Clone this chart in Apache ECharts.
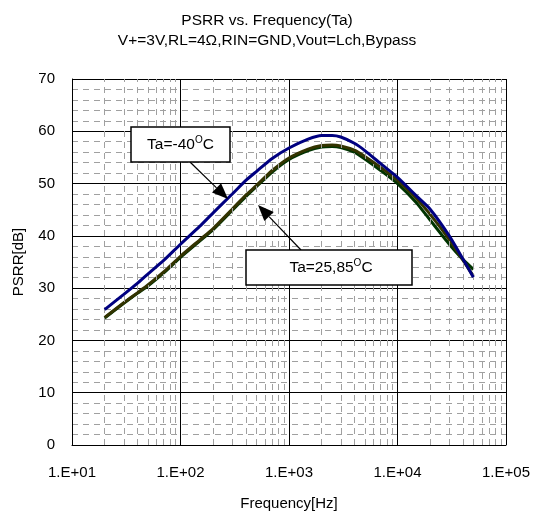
<!DOCTYPE html>
<html>
<head>
<meta charset="utf-8">
<script src="https://cdn.jsdelivr.net/npm/echarts@6/dist/echarts.min.js"></script>
<style>
html,body{margin:0;padding:0;background:#fff;}
#chart{width:534px;height:516px;}
</style>
</head>
<body>
<div id="chart"></div>
<script>
// ---- data ----
const titleText = 'PSRR vs. Frequency(Ta)';
const subtitleText = 'V+=3V,RL=4Ω,RIN=GND,Vout=Lch,Bypass';
const xAxisName = 'Frequency[Hz]';
const yAxisName = 'PSRR[dB]';
const freqs = [20,30,40,50,70,100,150,200,300,400,500,700,1000,1500,2000,2500,3000,4000,5000,7000,10000,15000,20000,30000,40000,50000];
const psrrM40 = [25.9,28.8,30.9,32.7,35.3,38.4,41.8,44.4,48.0,50.6,52.3,54.8,56.8,58.5,59.2,59.2,58.9,57.7,56.3,53.8,51.2,47.6,45.1,40.0,35.6,32.1];
const psrr25  = [24.4,27.2,29.1,30.6,33.1,36.1,39.2,41.4,45.1,47.8,49.6,52.5,54.9,56.6,57.3,57.4,57.2,56.4,55.2,53.1,50.6,47.1,44.1,39.3,35.4,32.3];
const psrr85  = [24.3,27.1,29.0,30.4,32.9,35.9,39.0,41.2,44.9,47.5,49.4,52.2,54.6,56.3,57.0,57.1,56.9,56.0,54.7,52.5,50.0,46.3,43.0,38.4,35.5,33.6];
const minorFreqs = [20,30,40,50,60,70,80,90,200,300,400,500,600,700,800,900,2000,3000,4000,5000,6000,7000,8000,9000,20000,30000,40000,50000,60000,70000,80000,90000];
const label1 = 'Ta=-40';
const label2 = 'Ta=25,85';

const FONT = '"Liberation Sans", Arial, sans-serif';
const chart = echarts.init(document.getElementById('chart'));

function pair(vals){ return freqs.map((f,i)=>[f, vals[i]]); }

function arrow(x1,y1,x2,y2){
  const dx=x2-x1, dy=y2-y1, L=Math.hypot(dx,dy);
  const ux=dx/L, uy=dy/L, hl=16, hw=6.5;
  const bx=x2-ux*hl, by=y2-uy*hl;
  return [
    {type:'line', z:100, shape:{x1:x1,y1:y1,x2:bx,y2:by}, style:{stroke:'#000',lineWidth:1.2}},
    {type:'polygon', z:100, shape:{points:[[x2,y2],[bx-uy*hw,by+ux*hw],[bx+uy*hw,by-ux*hw]]}, style:{fill:'#000'}}
  ];
}

const supRich = {
  m:{fontSize:15.5, fontFamily:FONT, color:'#000', lineHeight:18},
  s:{fontSize:10, fontFamily:FONT, color:'#000', verticalAlign:'top', lineHeight:10}
};

const option = {
  animation:false,
  backgroundColor:'#fff',
  title:[
    {text:titleText, left:'center', top:13, padding:0, textStyle:{fontSize:15.5, fontWeight:'normal', color:'#000', fontFamily:FONT}},
    {text:subtitleText, left:'center', top:33, padding:0, textStyle:{fontSize:15.5, fontWeight:'normal', color:'#000', fontFamily:FONT}}
  ],
  grid:{left:72, right:28, top:79, bottom:69, containLabel:false},
  xAxis:{
    type:'log', logBase:10, min:10, max:100000,
    name:xAxisName, nameLocation:'middle', nameGap:51,
    nameTextStyle:{fontSize:15, color:'#000', fontFamily:FONT},
    axisLine:{lineStyle:{color:'#000', width:1}},
    axisTick:{show:false},
    axisLabel:{margin:20, fontSize:15, color:'#000', fontFamily:FONT,
      formatter:function(v){ const e=Math.round(Math.log10(v)); return '1.E+'+(e<10?'0':'')+e; }},
    splitLine:{show:true, lineStyle:{color:'#000', width:1}}
  },
  yAxis:{
    type:'value', min:0, max:70, interval:10,
    name:yAxisName, nameLocation:'middle', nameGap:46, nameRotate:90,
    nameTextStyle:{fontSize:15, color:'#000', fontFamily:FONT},
    axisLine:{show:true, lineStyle:{color:'#000', width:1}},
    axisTick:{show:false},
    axisLabel:{margin:17, fontSize:15, color:'#000', fontFamily:FONT},
    splitLine:{show:true, lineStyle:{color:'#000', width:1}},
    minorTick:{show:false, splitNumber:5},
    minorSplitLine:{show:true, lineStyle:{color:'#a0a0a0', width:1, type:[6,5]}}
  },
  series:[
    {type:'line', name:'minor', data:[], z:1, silent:true,
      markLine:{silent:true, symbol:'none', label:{show:false}, animation:false,
        lineStyle:{color:'#a0a0a0', width:1, type:[6,5]},
        data:minorFreqs.map(f=>({xAxis:f}))}},
    {type:'line', name:'Ta=85', data:pair(psrr85), showSymbol:false, smooth:0.2, z:3,
      lineStyle:{color:'#003300', width:3}},
    {type:'line', name:'Ta=25', data:pair(psrr25), showSymbol:false, smooth:0.2, z:4,
      lineStyle:{color:'#333300', width:3}},
    {type:'line', name:'Ta=-40', data:pair(psrrM40), showSymbol:false, smooth:0.2, z:5,
      lineStyle:{color:'#000080', width:3}}
  ],
  graphic:[
    ...arrow(190,162,228,199),
    ...arrow(301,250,258,205),
    {type:'rect', z:100, shape:{x:131, y:127, width:99, height:35}, style:{fill:'#fff', stroke:'#000', lineWidth:1.5}},
    {type:'text', z:101, style:{x:180.5, y:144.5, text:'{m|'+label1+'}{s|O}{m|C}', rich:supRich, align:'center', verticalAlign:'middle'}},
    {type:'rect', z:100, shape:{x:246, y:250, width:166, height:35}, style:{fill:'#fff', stroke:'#000', lineWidth:1.5}},
    {type:'text', z:101, style:{x:331, y:267.5, text:'{m|'+label2+'}{s|O}{m|C}', rich:supRich, align:'center', verticalAlign:'middle'}}
  ]
};
chart.setOption(option);
</script>
</body>
</html>
